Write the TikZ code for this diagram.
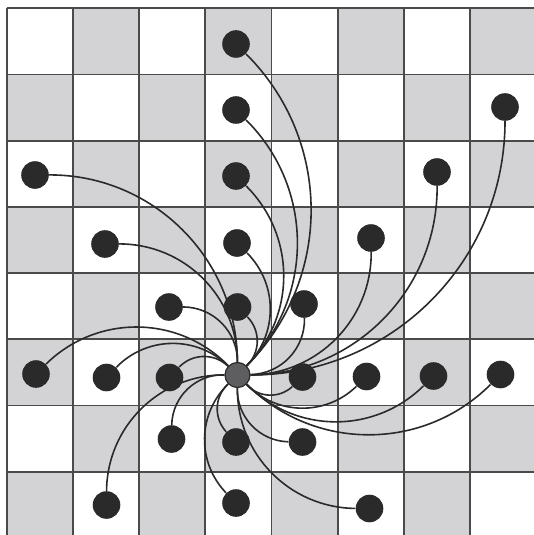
\documentclass[tikz,border=0pt]{standalone}
\pgfdeclarelayer{bg}
\pgfsetlayers{bg,main}
\definecolor{cellgrey}{HTML}{D3D3D5}
\definecolor{gridcol}{HTML}{4A4A4A}
\definecolor{dotcol}{HTML}{2B2A2B}
\definecolor{hubcol}{HTML}{5E5E60}
\tikzset{
  dot/.style={circle,fill=dotcol,draw=none,minimum size=13.8pt,inner sep=0pt},
  hub/.style={circle,fill=hubcol,draw=dotcol,line width=0.6pt,minimum size=12.5pt,inner sep=0pt},
  link/.style={draw=dotcol,line width=0.8pt},
  gridline/.style={draw=gridcol,line width=0.9pt}
}
\begin{document}
\begin{tikzpicture}[x=0.5pt,y=0.5pt]
\useasboundingbox (0,0) rectangle (534,-535);
\node[hub] (c) at (237.5,-375) {};
\foreach \i/\x/\y in {
  1/236/44, 2/236/110, 3/236/176, 4/237/243,
  5/35/175, 6/105/244, 7/505/107, 8/437/172, 9/371/238,
  10/169/307, 11/237.5/307, 12/36/374, 13/106.5/377.5, 14/169.5/377.5,
  15/171.5/439, 16/236/442, 17/106.5/505, 18/236/503,
  19/304/304, 20/302.5/377, 21/366.5/376.5, 22/433.5/376, 23/500.5/374.5,
  24/302.5/442, 25/369.5/508.5}
  \node[dot] (d\i) at (\x,-\y) {};
\begin{pgfonlayer}{bg}
  \fill[white] (0,0) rectangle (534,-535);
  \begin{scope}
    \clip (0,0) rectangle (534,-535);
    \foreach \r in {0,...,7}
      \foreach \c in {0,...,7} {
        \pgfmathtruncatemacro\p{mod(\r+\c,2)}
        \ifnum\p=1
          \fill[cellgrey] ({6.7+66.2*\c},{-8.3-66.2*\r}) rectangle ++(66.2,-66.2);
        \fi
      }
    \foreach \i in {0,...,8} {
      \draw[gridline] ({6.7+66.2*\i},-8.3) -- ++(0,-540);
      \draw[gridline] (6.7,{-8.3-66.2*\i}) -- ++(540,0);
    }
  \end{scope}
  \foreach \i in {1,...,25}
    \draw[link] (d\i) to[bend left=45] (c);
\end{pgfonlayer}
\end{tikzpicture}
\end{document}
